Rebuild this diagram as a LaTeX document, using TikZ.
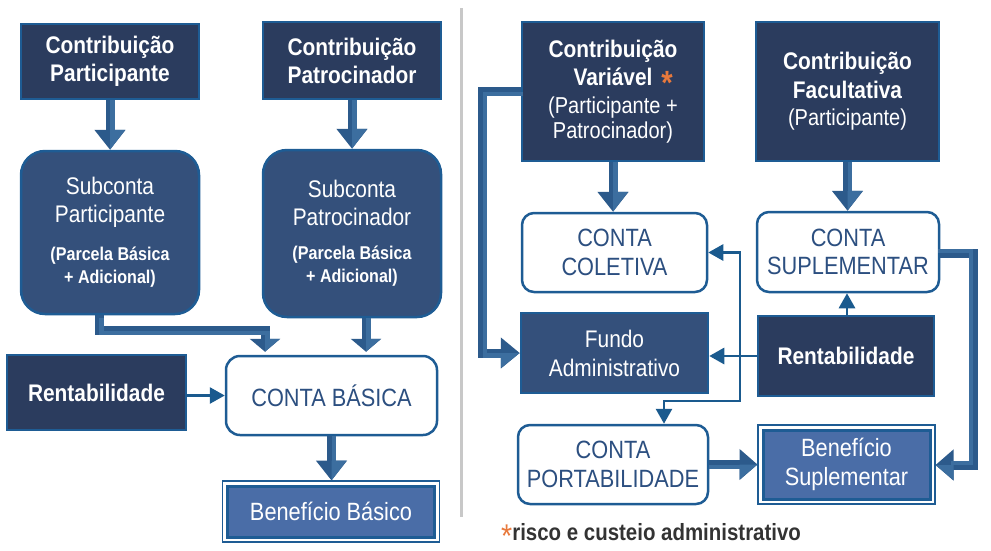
\documentclass[tikz,border=0pt]{standalone}
\usepackage{fontspec}
\setmainfont[FakeStretch=0.87]{Liberation Sans}
\usetikzlibrary{arrows.meta,calc}
\definecolor{navy}{HTML}{2B3C5E}
\definecolor{bord}{HTML}{1E5C94}
\definecolor{subfill}{HTML}{34507B}
\definecolor{benfill}{HTML}{4A6DA7}
\definecolor{fatc}{HTML}{2C5A8B}
\definecolor{fatlight}{HTML}{3C6E9F}
\definecolor{thinc}{HTML}{1A5A8E}
\definecolor{ctext}{HTML}{2C4F80}
\definecolor{orangec}{HTML}{E8793C}
\definecolor{graytext}{HTML}{333333}
\definecolor{divider}{HTML}{C8C8C8}
\newcommand\smb[1]{{\bfseries\fontsize{18.5}{23}\selectfont #1}}
\newcommand\reg[1]{{\fontsize{23}{28}\selectfont #1}}
\newcommand\bigast[1]{\raisebox{#1}[0pt][0pt]{\color{orangec}\scalebox{1.4}{*}}}
\begin{document}
\begin{tikzpicture}[x=1pt,y=-1pt,
  navybox/.style={draw=bord, fill=navy, line width=2pt, text=white, align=center, inner sep=0pt,
    font=\fontsize{24}{28}\selectfont},
  subbox/.style={navybox, fill=subfill, rounded corners=24pt, line width=2.5pt},
  fundobox/.style={navybox, fill=subfill, line width=2.5pt},
  whitebox/.style={draw=bord, fill=white, line width=2.5pt, rounded corners=12pt, text=ctext,
    align=center, inner sep=0pt, font=\fontsize{25}{28.5}\selectfont},
  benbox/.style={draw=bord, fill=benfill, line width=3pt, text=white, align=center, inner sep=0pt,
    font=\fontsize{25}{29}\selectfont},
  fat/.style={draw=fatc, line width=9pt, line join=miter, -{Triangle[width=30pt,length=20pt]}},
  fatshort/.style={draw=fatc, line width=9pt, line join=miter, -{Triangle[width=30pt,length=13pt]}},
  fathead/.style={draw=fatc, line width=9pt, line join=miter, -{Triangle[width=30pt,length=#1]}},
  lightstripe/.style={draw=fatlight, line width=4.5pt, line join=miter},
  thinarrow/.style={draw=thinc, line width=2.8pt, -{Triangle[width=16pt,length=15pt]}},
]
\useasboundingbox (0,0) rectangle (991,550);

% divider
\draw[divider, line width=3pt] (461,8) -- (461,517);

% ---------- left side ----------
\node[navybox, minimum width=178pt, minimum height=75pt] (cp) at (110,61.5)
  {\bfseries Contribuição\\\bfseries Participante};
\node[navybox, minimum width=178pt, minimum height=77pt] (cpat) at (352,60.5)
  {\bfseries Contribuição\\\bfseries Patrocinador};
\node[subbox, minimum width=178pt, minimum height=163pt] (sp) at (110,232.5)
  {Subconta\\Participante\\[10pt]\smb{(Parcela Básica}\\[-5pt]\smb{+ Adicional)}};
\node[subbox, minimum width=178pt, minimum height=167pt] (spat) at (352,233.5)
  {Subconta\\Patrocinador\\[6pt]\smb{(Parcela Básica}\\[-5pt]\smb{+ Adicional)}};
\node[navybox, minimum width=179pt, minimum height=75pt] (rl) at (96.5,392.5)
  {\bfseries Rentabilidade};
\node[whitebox, minimum width=211pt, minimum height=79pt, rounded corners=14pt] (cb) at (331.5,395.5)
  {CONTA BÁSICA};
\node[benbox, minimum width=207pt, minimum height=51pt] (bb) at (331,511.5)
  {Benefício Básico};
\draw[bord, line width=1.2pt] ([shift={(-3.5,-3.5)}]bb.north west) rectangle ([shift={(3.5,3.5)}]bb.south east);

% tips
\coordinate (t1) at (cp.south |- sp.north);
\coordinate (t2) at (cpat.south |- spat.north);
\coordinate (a1) at (99,330.5);
\coordinate (a2) at (265,330.5);
\coordinate (a3) at (366,0);
\coordinate (t3) at ($(cb.north -| a2)+(0,-3)$);
\coordinate (t4) at ($(cb.north -| a3)+(0,-3)$);
\coordinate (t5) at ($(cb.south |- bb.north)+(0,-4)$);

\draw[fat] (cp.south) -- (t1);
\fill[fatlight] (cp.south) rectangle ($(t1)+(4.5,-20)$);
\fill[fatlight] (t1) -- ($(t1)+(0,-20)$) -- ($(t1)+(15,-20)$) -- cycle;

\draw[fat] (cpat.south) -- (t2);
\fill[fatlight] (cpat.south) rectangle ($(t2)+(4.5,-20)$);
\fill[fatlight] (t2) -- ($(t2)+(0,-20)$) -- ($(t2)+(15,-20)$) -- cycle;

\draw[fatshort] (sp.south -| a1) -- (a1) -- (a2) -- (t3);
\draw[lightstripe, shorten >=13pt, transform canvas={shift={(2.25pt,-2.25pt)}}] (sp.south -| a1) -- (a1) -- (a2) -- (t3);
\fill[fatlight] (t3) -- ($(t3)+(0,-13)$) -- ($(t3)+(15,-13)$) -- cycle;

\draw[fatshort] (spat.south -| a3) -- (t4);
\fill[fatlight] (spat.south -| a3) rectangle ($(t4)+(4.5,-13)$);
\fill[fatlight] (t4) -- ($(t4)+(0,-13)$) -- ($(t4)+(15,-13)$) -- cycle;

\draw[thinarrow] (cb.west -| rl.east) -- (cb.west);

\draw[fat] (cb.south) -- (t5);
\fill[fatlight] (cb.south) rectangle ($(t5)+(4.5,-20)$);
\fill[fatlight] (t5) -- ($(t5)+(0,-20)$) -- ($(t5)+(15,-20)$) -- cycle;

% ---------- right side ----------
\node[navybox, minimum width=182pt, minimum height=139pt] (cv) at (613,91.5)
  {\bfseries Contribuição\\[0pt]\bfseries Variável\rlap{\hspace{9pt}\bigast{-9pt}}\\[0.5pt]
   \reg{(Participante +}\\[-3pt]\reg{Patrocinador)}};
\node[navybox, minimum width=183pt, minimum height=139pt] (cf) at (847.5,91.5)
  {\bfseries Contribuição\\[1pt]\bfseries Facultativa\\[-1pt]\reg{(Participante)}};
\node[whitebox, minimum width=185pt, minimum height=79pt] (cc) at (614.5,252.5)
  {CONTA\\COLETIVA};
\node[whitebox, minimum width=182pt, minimum height=80pt] (cs) at (848,252)
  {CONTA\\SUPLEMENTAR};
\node[fundobox, minimum width=187pt, minimum height=80pt, font=\fontsize{24}{29}\selectfont] (fa) at (614.5,353)
  {Fundo\\Administrativo};
\node[navybox, minimum width=176pt, minimum height=80pt] (rr) at (846,356)
  {\bfseries Rentabilidade};
\node[whitebox, minimum width=190pt, minimum height=79pt] (cpt) at (613,464.5)
  {CONTA\\PORTABILIDADE};
\node[benbox, minimum width=167pt, minimum height=69pt] (bs) at (846.5,464.5)
  {Benefício\\Suplementar};
\draw[bord, line width=1.2pt] ([shift={(-3.5,-3.5)}]bs.north west) rectangle ([shift={(3.5,3.5)}]bs.south east);

\coordinate (t6) at (cv.south |- cc.north);
\coordinate (t7) at (cf.south |- cs.north);
\coordinate (b1) at (482.5,91.5);
\coordinate (b2) at (482.5,353);
\coordinate (t8) at (fa.west);
\coordinate (c1) at (973,253);
\coordinate (c2) at (973,465);
\coordinate (t9) at ($(c2 -| bs.east)+(4,0)$);
\coordinate (t10) at ($(cpt.east -| bs.west)+(-4,0)$);

\draw[fat] (cv.south) -- (t6);
\fill[fatlight] (cv.south) rectangle ($(t6)+(4.5,-20)$);
\fill[fatlight] (t6) -- ($(t6)+(0,-20)$) -- ($(t6)+(15,-20)$) -- cycle;

\draw[fat] (cf.south) -- (t7);
\fill[fatlight] (cf.south) rectangle ($(t7)+(4.5,-20)$);
\fill[fatlight] (t7) -- ($(t7)+(0,-20)$) -- ($(t7)+(15,-20)$) -- cycle;

\draw[fathead=19pt] (cv.west) -- (b1) -- (b2) -- (t8);
\draw[lightstripe, shorten >=19pt, transform canvas={shift={(2.25pt,-2.25pt)}}] (cv.west) -- (b1) -- (b2) -- (t8);
\fill[fatlight] (t8) -- ($(t8)+(-19,0)$) -- ($(t8)+(-19,15)$) -- cycle;

\draw[fathead=18pt] (cs.east |- c1) -- (c1) -- (c2) -- (t9);
\draw[lightstripe, shorten >=18pt, transform canvas={shift={(-2.25pt,2.25pt)}}] (cs.east |- c1) -- (c1) -- (c2) -- (t9);
\fill[fatlight] (t9) -- ($(t9)+(18,0)$) -- ($(t9)+(18,15)$) -- cycle;

\draw[fathead=18pt] (cpt.east) -- (t10);
\fill[fatlight] ($(cpt.east)+(0,0)$) rectangle ($(t10)+(-18,4.5)$);
\fill[fatlight] (t10) -- ($(t10)+(-18,0)$) -- ($(t10)+(-18,15)$) -- cycle;

\coordinate (j) at (740,0);
\coordinate (k) at (664,401);
\coordinate (m) at (847,0);
\draw[thinarrow] (rr.west) -- (rr.west -| fa.east);
\draw[thinarrow] (rr.west -| j) -- (j |- cc.east) -- (cc.east);
\draw[thinarrow] (rr.west -| j) -- (j |- k) -- (k) -- (k |- cpt.north);
\draw[thinarrow] (rr.north -| m) -- (cs.south -| m);

% footnote
\node[anchor=base west, inner sep=0pt, text=graytext, font=\fontsize{23.5}{28}\selectfont] (fn) at (501,540)
  {\bigast{-7pt}\bfseries risco e custeio administrativo};
\end{tikzpicture}
\end{document}
